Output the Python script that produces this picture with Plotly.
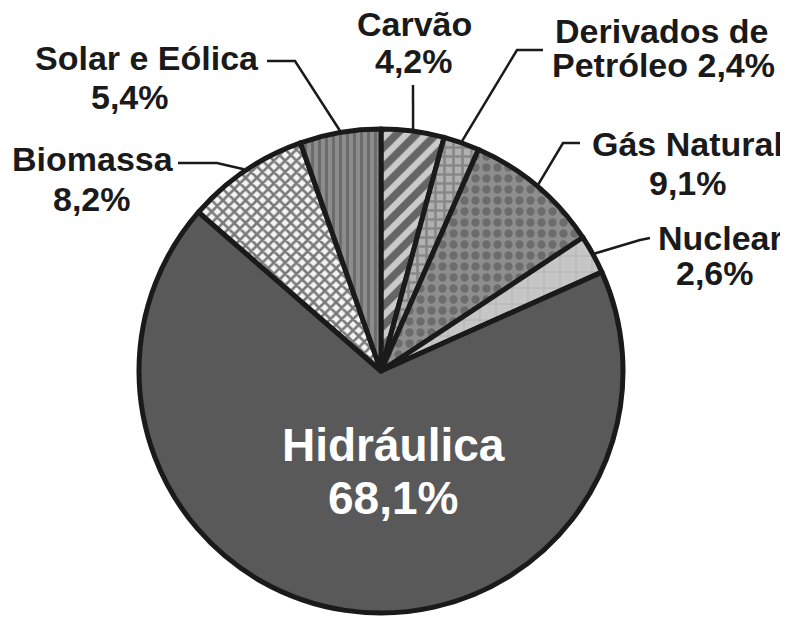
import math
import plotly.graph_objects as go

# ---- data ----
sources = ["Carvão", "Derivados de Petróleo", "Gás Natural", "Nuclear",
           "Hidráulica", "Biomassa", "Solar e Eólica"]
shares = [4.2, 2.4, 9.1, 2.6, 68.1, 8.2, 5.4]
name_lines = ["Carvão", "Derivados de", "Gás Natural", "Nuclear",
              "Hidráulica", "Biomassa", "Solar e Eólica"]
value_text = ["4,2%", "Petróleo 2,4%", "9,1%", "2,6%", "68,1%", "8,2%", "5,4%"]

# ---- styles ----
OFF = 8                      # default page margin around the figure
W, H = 788 - OFF, 618 - OFF  # figure size so it fills the window
CX, CY, R = 381, 371, 242    # pie centre / radius in window pixels
LINE_W = 5
fills = ["#cacaca", "#b0b0b0", "#8e8e8e", "#c6c6c6", "#595959", "#f4f4f4", "#8c8c8c"]
pat_shape = ["/", "+", ".", "+", "", "x", "|"]
pat_fg = ["#000000", "#5e5e5e", "#4a4a4a", "#9c9c9c", "#595959", "#000000", "#474747"]
pat_size = [14, 9, 11, 16, 8, 8, 7]
pat_sol = [0.55, 0.5, 0.45, 0.12, 0.3, 0.55, 0.4]

# label placement (window pixels): name-line centre, value-line centre, leader elbow points
name_pos = [(414, 26), (662, 33), (687, 146), (720, 240), (393, 448), (93, 161), (147, 60)]
val_pos = [(414, 63), (663, 67), (688, 185), (715, 275), (393, 501), (92, 201), (130, 99)]
leader_elbow = [
    [(413, 85)],
    [(543, 50), (517, 50)],
    [(580, 143), (563, 143)],
    [(650, 238), (640, 240)],
    None,
    [(178, 163), (217, 163)],
    [(267, 61), (295, 61)],
]

def px(x):
    return (x - OFF) / W

def py(y):
    return 1 - (y - OFF) / H

fig = go.Figure(go.Pie(
    labels=sources,
    values=shares,
    sort=False,
    direction="clockwise",
    rotation=0,
    textinfo="none",
    hoverinfo="label+percent",
    marker=dict(
        colors=fills,
        line=dict(color="#1a1a1a", width=LINE_W),
        pattern=dict(shape=pat_shape, fgcolor=pat_fg, bgcolor=fills,
                     size=pat_size, solidity=pat_sol, fillmode="overlay"),
    ),
    domain=dict(x=[px(CX - R), px(CX + R)], y=[py(CY + R), py(CY - R)]),
    showlegend=False,
))

annotations = []
shapes = []
total = sum(shares)
cum = 0.0
for i, v in enumerate(shares):
    mid = (cum + v / 2) / total * 2 * math.pi
    cum += v
    white = sources[i] == "Hidráulica"
    size = 46 if white else 34
    color = "white" if white else "#1a1a1a"
    shift = 0.06 * size  # cap-height centre vs. text box centre
    for (x, y), txt in [(name_pos[i], name_lines[i]), (val_pos[i], value_text[i])]:
        annotations.append(dict(
            x=px(x), y=py(y - shift), xref="paper", yref="paper",
            text="<b>" + txt + "</b>", showarrow=False,
            xanchor="center", yanchor="middle",
            font=dict(family="Liberation Sans, Arial, sans-serif", size=size, color=color),
        ))
    if leader_elbow[i]:
        ex = CX + (R + 2) * math.sin(mid)
        ey = CY - (R + 2) * math.cos(mid)
        pts = leader_elbow[i] + [(ex, ey)]
        path = "M " + " L ".join(f"{px(a):.5f},{py(b):.5f}" for a, b in pts)
        shapes.append(dict(type="path", path=path, xref="paper", yref="paper",
                           line=dict(color="#1a1a1a", width=2.5)))

fig.update_layout(
    width=W, height=H, autosize=False,
    margin=dict(l=0, r=0, t=0, b=0),
    paper_bgcolor="white", plot_bgcolor="white",
    annotations=annotations, shapes=shapes,
)

fig.write_html("out.html")
